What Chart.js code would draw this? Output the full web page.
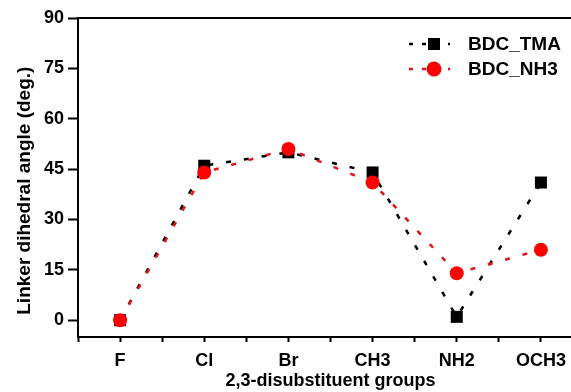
<!DOCTYPE html>
<html>
<head>
<meta charset="utf-8">
<script src="https://cdn.jsdelivr.net/npm/chart.js@4/dist/chart.umd.min.js"></script>
<style>
html,body{margin:0;padding:0;background:#fff;overflow:hidden;}
#wrap{width:600px;height:392px;position:relative;}
</style>
</head>
<body>
<div id="wrap"><canvas id="c"></canvas></div>
<script>
const categories = ['F', 'Cl', 'Br', 'CH3', 'NH2', 'OCH3'];
const tmaValues = [0, 46, 50, 44, 1, 41];
const nh3Values = [0, 44, 51, 41, 14, 21];
const yTicks = [0, 15, 30, 45, 60, 75, 90];
const seriesNames = ['BDC_TMA', 'BDC_NH3'];

const FONT = '"Liberation Sans", Arial, sans-serif';

const toPts = vals => vals.map((v, i) => ({x: i, y: v}));

const topBorder = {
  id: 'topBorder',
  afterDraw(chart) {
    const {ctx, chartArea} = chart;
    ctx.save();
    ctx.strokeStyle = '#000';
    ctx.lineWidth = 2;
    ctx.beginPath();
    ctx.moveTo(chartArea.left - 1, chartArea.top);
    ctx.lineTo(chartArea.right, chartArea.top);
    ctx.stroke();
    ctx.restore();
  }
};

const customLegend = {
  id: 'customLegend',
  afterDraw(chart) {
    const ctx = chart.ctx;
    const rows = [44, 69];
    chart.data.datasets.slice().sort((a,b)=>a.legendIndex-b.legendIndex).forEach((ds, i) => {
      const y = rows[i];
      ctx.save();
      ctx.strokeStyle = ds.borderColor;
      ctx.lineWidth = 2.5;
      ctx.setLineDash([4, 9]);
      ctx.beginPath();
      ctx.moveTo(409, y);
      ctx.lineTo(450, y);
      ctx.stroke();
      ctx.setLineDash([]);
      ctx.fillStyle = ds.pointBackgroundColor;
      if (ds.pointStyle === 'rect') {
        ctx.fillRect(428, y - 6, 12, 12);
      } else {
        ctx.beginPath();
        ctx.arc(434, y, 7.5, 0, Math.PI * 2);
        ctx.fill();
      }
      ctx.fillStyle = '#000';
      ctx.font = 'bold 19px ' + FONT;
      ctx.textBaseline = 'middle';
      ctx.textAlign = 'left';
      ctx.fillText(ds.label, 468, y + 1);
      ctx.restore();
    });
  }
};

new Chart(document.getElementById('c'), {
  type: 'line',
  data: {
    datasets: [
      {
        label: seriesNames[0],
        legendIndex: 0,
        data: toPts(tmaValues),
        borderColor: '#000',
        borderWidth: 2.5,
        borderDash: [5, 13],
        pointStyle: 'rect',
        pointRadius: 8.5,
        pointBackgroundColor: '#000',
        pointBorderWidth: 0,
        order: 1
      },
      {
        label: seriesNames[1],
        legendIndex: 1,
        data: toPts(nh3Values),
        borderColor: '#e0141c',
        borderWidth: 2.5,
        borderDash: [5, 13],
        pointStyle: 'circle',
        pointRadius: 7,
        pointBackgroundColor: '#ff0000',
        pointBorderWidth: 0,
        order: 0
      }
    ]
  },
  plugins: [topBorder, customLegend],
  options: {
    responsive: true,
    maintainAspectRatio: false,
    animation: false,
    layout: {padding: {left: 0, right: 17, top: 18, bottom: 0}},
    plugins: {legend: {display: false}, tooltip: {enabled: false}},
    scales: {
      x: {
        type: 'linear',
        min: -0.5,
        max: categories.length - 0.5,
        afterFit(scale) { scale.height = 55; },
        border: {display: true, color: '#000', width: 2},
        grid: {drawOnChartArea: false, drawTicks: true, tickLength: 5, tickWidth: 2, color: '#000'},
        ticks: {
          stepSize: 0.5,
          autoSkip: false,
          maxRotation: 0,
          padding: 8,
          color: '#000',
          font: {family: FONT, size: 18, weight: 'bold'},
          callback: v => Number.isInteger(v) ? categories[v] : ''
        },
        title: {
          display: true,
          text: '2,3-disubstituent groups',
          color: '#000',
          font: {family: FONT, size: 18, weight: 'bold'},
          padding: {top: 0, bottom: 0}
        }
      },
      y: {
        min: -5,
        max: 90,
        afterFit(scale) { scale.width = 78; },
        afterBuildTicks(scale) { scale.ticks = yTicks.map(v => ({value: v})); },
        border: {display: true, color: '#000', width: 2},
        grid: {drawOnChartArea: false, drawTicks: true, tickLength: 10, tickWidth: 2, color: '#000'},
        ticks: {
          padding: 4,
          color: '#000',
          font: {family: FONT, size: 18, weight: 'bold'}
        },
        title: {
          display: true,
          text: 'Linker dihedral angle (deg.)     ',
          color: '#000',
          font: {family: FONT, size: 19, weight: 'bold'},
          padding: {top: 13, bottom: 0}
        }
      }
    }
  }
});
</script>
</body>
</html>
